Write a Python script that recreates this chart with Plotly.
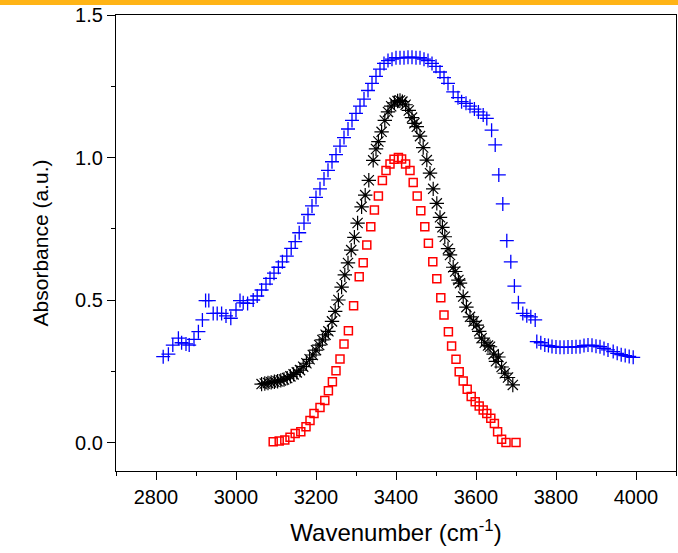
import plotly.graph_objects as go

# Blue series (+)
blue_x = [2818, 2831, 2842, 2856, 2864, 2875, 2883, 2895, 2906, 2916, 2924, 2932, 2943, 2953, 2964,
          2975, 2987, 3000, 3010, 3018, 3029, 3043, 3053, 3064, 3075, 3085, 3095, 3106, 3116, 3127,
          3138, 3148, 3158, 3170, 3180, 3190, 3200, 3210, 3220, 3230, 3240, 3250, 3260, 3270, 3280,
          3290, 3300, 3310, 3320, 3330, 3340, 3350, 3360, 3370, 3380, 3390, 3400, 3410, 3420, 3430,
          3440, 3450, 3460, 3470, 3480, 3490, 3500, 3510, 3520, 3530, 3543, 3555, 3564, 3575, 3585,
          3596, 3606, 3618, 3627, 3639, 3648, 3657, 3667, 3677, 3687, 3696, 3706, 3717, 3727, 3737,
          3748, 3752, 3762, 3772, 3781, 3790, 3800, 3810, 3820, 3830, 3840, 3850, 3860, 3870, 3880,
          3890, 3900, 3910, 3920, 3930, 3943, 3953, 3963, 3973, 3983, 3993]
blue_y = [0.301, 0.31, 0.342, 0.366, 0.35, 0.346, 0.342, 0.362, 0.389, 0.43, 0.498, 0.498, 0.453, 0.453, 0.453,
          0.444, 0.436, 0.465, 0.498, 0.49, 0.488, 0.5, 0.514, 0.535, 0.556, 0.576, 0.594, 0.615, 0.634, 0.654,
          0.681, 0.705, 0.736, 0.77, 0.80, 0.83, 0.86, 0.89, 0.925, 0.955, 0.985, 1.01, 1.04, 1.07, 1.10,
          1.13, 1.155, 1.18, 1.205, 1.235, 1.26, 1.285, 1.31, 1.33, 1.34, 1.345, 1.35, 1.35, 1.35, 1.352,
          1.352, 1.35, 1.35, 1.345, 1.34, 1.33, 1.32, 1.30, 1.28, 1.26, 1.23, 1.21, 1.196, 1.19, 1.18,
          1.17, 1.16, 1.149, 1.137, 1.096, 1.044, 0.939, 0.837, 0.708, 0.634, 0.549, 0.49, 0.453, 0.445, 0.441,
          0.43, 0.354, 0.35, 0.342, 0.34, 0.337, 0.335, 0.334, 0.334, 0.335, 0.335, 0.336, 0.336, 0.34, 0.342,
          0.341, 0.338, 0.336, 0.33, 0.325, 0.319, 0.313, 0.308, 0.305, 0.302, 0.299]

# Black series (asterisk)
black_x = [3064, 3072, 3080, 3088, 3096, 3104, 3112, 3120, 3128, 3136, 3144, 3152, 3160, 3168, 3176,
           3184, 3192, 3200, 3208, 3216, 3224, 3231, 3240, 3248, 3256, 3264, 3272, 3280, 3288, 3296,
           3304, 3314, 3323, 3332, 3343, 3350, 3356, 3364, 3372, 3380, 3388, 3396, 3404, 3410, 3416,
           3424, 3432, 3440, 3446, 3452, 3460, 3468, 3477, 3485, 3493, 3502, 3510, 3516, 3522, 3530,
           3535, 3543, 3548, 3556, 3560, 3568, 3576, 3585, 3594, 3602, 3608, 3614, 3622, 3630, 3635,
           3644, 3650, 3656, 3664, 3672, 3680, 3692]
black_y = [0.205, 0.207, 0.209, 0.211, 0.213, 0.215, 0.218, 0.221, 0.226, 0.232, 0.239, 0.246, 0.254, 0.266, 0.278,
           0.292, 0.307, 0.324, 0.342, 0.36, 0.378, 0.39, 0.425, 0.46, 0.50, 0.545, 0.588, 0.63, 0.675, 0.72,
           0.77, 0.827, 0.868, 0.92, 0.99, 1.03, 1.056, 1.09, 1.13, 1.16, 1.18, 1.192, 1.198, 1.2, 1.196,
           1.185, 1.165, 1.14, 1.12, 1.108, 1.075, 1.035, 0.991, 0.945, 0.89, 0.839, 0.79, 0.755, 0.722, 0.68,
           0.658, 0.615, 0.60, 0.57, 0.559, 0.512, 0.475, 0.441, 0.425, 0.412, 0.39, 0.366, 0.35, 0.34, 0.336,
           0.31, 0.285, 0.30, 0.265, 0.243, 0.228, 0.202]

# Red series (open squares)
red_x = [3093, 3108, 3122, 3135, 3148, 3162, 3175, 3185, 3195, 3210, 3222, 3231, 3241, 3250, 3260,
         3270, 3281, 3294, 3308, 3318, 3327, 3337, 3346, 3356, 3366, 3375, 3385, 3395, 3406, 3414,
         3424, 3435, 3443, 3453, 3462, 3472, 3481, 3492, 3502, 3512, 3520, 3531, 3539, 3550, 3558,
         3568, 3578, 3588, 3598, 3608, 3618, 3627, 3637, 3646, 3654, 3664, 3675, 3700]
red_y = [0.003, 0.005, 0.009, 0.018, 0.032, 0.038, 0.055, 0.077, 0.102, 0.123, 0.147, 0.182, 0.213, 0.252, 0.293,
         0.346, 0.392, 0.48, 0.582, 0.631, 0.693, 0.757, 0.816, 0.865, 0.919, 0.954, 0.977, 0.994, 1.0, 0.995,
         0.977, 0.954, 0.912, 0.865, 0.813, 0.757, 0.699, 0.634, 0.575, 0.508, 0.447, 0.389, 0.339, 0.292, 0.248,
         0.216, 0.187, 0.161, 0.143, 0.128, 0.114, 0.102, 0.085, 0.067, 0.038, 0.011, 0.0, 0.0]

x_ticks = [2800, 3000, 3200, 3400, 3600, 3800, 4000]
y_ticks = [0.0, 0.5, 1.0, 1.5]
y_tick_labels = ["0.0", "0.5", "1.0", "1.5"]

FONT = "Liberation Sans, Arial, sans-serif"

fig = go.Figure()
fig.add_trace(go.Scatter(x=blue_x, y=blue_y, mode="markers",
                         marker=dict(symbol="cross-thin-open", size=10, color="#0000FF",
                                     line=dict(color="#0000FF", width=1.3))))
fig.add_trace(go.Scatter(x=black_x, y=black_y, mode="markers",
                         marker=dict(symbol="asterisk-open", size=12, color="#000000",
                                     line=dict(color="#000000", width=1.2))))
fig.add_trace(go.Scatter(x=red_x, y=red_y, mode="markers",
                         marker=dict(symbol="square-open", size=8, color="#FF0000",
                                     line=dict(color="#FF0000", width=1.5))))

fig.update_layout(
    width=678, height=553,
    margin=dict(l=116, r=2, t=15, b=82),
    paper_bgcolor="white", plot_bgcolor="white",
    showlegend=False,
    font=dict(family=FONT, color="black", size=20),
    shapes=[dict(type="rect", xref="paper", yref="paper",
                 x0=-0.25, x1=1.05, y0=1 + 10 / 456, y1=1 + 16 / 456,
                 fillcolor="#FFB416", line=dict(width=0), layer="above")],
)
fig.update_xaxes(
    range=[2700, 4100], tickvals=x_ticks, ticktext=[str(v) for v in x_ticks],
    showline=True, linecolor="black", linewidth=1.3, mirror=True,
    ticks="outside", ticklen=8, tickwidth=1.3, tickcolor="black",
    minor=dict(dtick=100, ticks="outside", ticklen=4, tickwidth=1, tickcolor="black"),
    showgrid=False, zeroline=False,
    tickfont=dict(size=20, family=FONT),
    title=dict(text="Wavenumber (cm<sup>-1</sup>)", font=dict(size=24, family=FONT), standoff=17),
)
fig.update_yaxes(
    range=[-0.1, 1.5], tickvals=y_ticks, ticktext=y_tick_labels,
    showline=True, linecolor="black", linewidth=1.3, mirror=True,
    ticks="outside", ticklen=8, tickwidth=1.3, tickcolor="black",
    minor=dict(dtick=0.25, tick0=0, ticks="outside", ticklen=4, tickwidth=1, tickcolor="black"),
    showgrid=False, zeroline=False,
    tickfont=dict(size=20, family=FONT),
    title=dict(text="Absorbance (a.u.)", font=dict(size=21, family=FONT), standoff=20),
)

fig.write_html("out.html", config={"displayModeBar": False},
               post_script="document.body.style.margin='0px';")
